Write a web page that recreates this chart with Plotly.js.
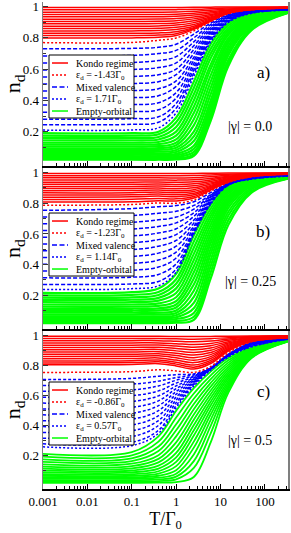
<!DOCTYPE html>
<html><head><meta charset="utf-8">
<script src="https://cdn.plot.ly/plotly-3.0.1.min.js"></script>
<style>html,body{margin:0;padding:0;background:#fff;}#chart{width:291px;height:533px;}</style>
</head><body><div id="chart"></div>
<script>
// Temperature grid T/Gamma0 (values at these temperatures)
const T = [0.001, 0.1, 0.4, 1, 2.5, 6, 15, 50, 330];

// ---------- Panel a) |gamma| = 0.0 ----------
const kondoA = [
 [0.995,0.995,0.995,0.995,0.996,0.997,0.998,0.998,0.998],
 [0.98,0.98,0.98,0.981,0.983,0.987,0.991,0.995,0.997],
 [0.965,0.965,0.965,0.966,0.97,0.977,0.985,0.992,0.996],
 [0.95,0.95,0.95,0.952,0.958,0.968,0.98,0.99,0.995],
 [0.935,0.935,0.936,0.938,0.946,0.959,0.976,0.988,0.995],
 [0.92,0.92,0.921,0.924,0.934,0.95,0.972,0.987,0.994],
 [0.905,0.905,0.906,0.91,0.922,0.942,0.968,0.986,0.994],
 [0.89,0.89,0.892,0.896,0.91,0.934,0.966,0.985,0.993],
 [0.875,0.875,0.877,0.882,0.898,0.928,0.964,0.984,0.993],
 [0.86,0.86,0.862,0.868,0.886,0.922,0.962,0.983,0.993],
 [0.845,0.845,0.847,0.854,0.875,0.917,0.961,0.983,0.993],
 [0.83,0.83,0.832,0.84,0.866,0.913,0.96,0.982,0.992],
 [0.815,0.815,0.818,0.827,0.86,0.91,0.959,0.982,0.992],
 [0.80,0.80,0.804,0.815,0.855,0.908,0.958,0.981,0.992]
];
const kondoEdgeA = [0.77,0.771,0.785,0.80,0.845,0.905,0.955,0.98,0.991];
const mixedA = [
 [0.73,0.733,0.74,0.76,0.825,0.895,0.949,0.978,0.99],
 [0.685,0.688,0.70,0.72,0.80,0.885,0.945,0.976,0.989],
 [0.64,0.643,0.655,0.68,0.775,0.875,0.941,0.975,0.988],
 [0.595,0.598,0.61,0.64,0.75,0.865,0.937,0.973,0.987],
 [0.55,0.553,0.565,0.60,0.725,0.855,0.933,0.971,0.986],
 [0.505,0.508,0.52,0.565,0.70,0.845,0.929,0.97,0.985],
 [0.46,0.463,0.475,0.525,0.675,0.835,0.925,0.968,0.984],
 [0.415,0.418,0.43,0.49,0.655,0.825,0.921,0.967,0.983],
 [0.37,0.373,0.385,0.45,0.635,0.815,0.917,0.965,0.982],
 [0.325,0.328,0.34,0.415,0.615,0.805,0.913,0.963,0.981],
 [0.28,0.283,0.295,0.38,0.595,0.795,0.909,0.962,0.98],
 [0.245,0.247,0.26,0.35,0.575,0.785,0.905,0.96,0.979]
];
const mixedEdgeA = [0.21,0.211,0.225,0.32,0.555,0.775,0.90,0.958,0.978];
const emptyA = [
 [0.19,0.19,0.20,0.29,0.52,0.76,0.895,0.955,0.975],
 [0.175,0.175,0.183,0.26,0.48,0.73,0.88,0.95,0.974],
 [0.16,0.16,0.166,0.23,0.44,0.70,0.865,0.945,0.973],
 [0.145,0.145,0.15,0.20,0.40,0.67,0.85,0.94,0.972],
 [0.13,0.13,0.134,0.175,0.36,0.63,0.835,0.935,0.971],
 [0.117,0.117,0.12,0.15,0.32,0.60,0.82,0.93,0.97],
 [0.105,0.105,0.107,0.13,0.28,0.56,0.80,0.925,0.969],
 [0.093,0.093,0.094,0.113,0.24,0.52,0.785,0.92,0.968],
 [0.082,0.082,0.083,0.097,0.20,0.48,0.77,0.912,0.967],
 [0.071,0.071,0.072,0.083,0.17,0.44,0.75,0.905,0.966],
 [0.061,0.061,0.061,0.07,0.14,0.40,0.73,0.897,0.965],
 [0.052,0.052,0.052,0.058,0.11,0.37,0.71,0.89,0.964],
 [0.043,0.043,0.043,0.048,0.09,0.34,0.69,0.88,0.963],
 [0.035,0.035,0.035,0.039,0.07,0.31,0.66,0.87,0.962],
 [0.027,0.027,0.027,0.03,0.055,0.29,0.64,0.86,0.961],
 [0.02,0.02,0.02,0.022,0.045,0.27,0.62,0.85,0.96]
];

// ---------- Panel b) |gamma| = 0.25 ----------
const kondoB = [
 [0.995,0.995,0.995,0.995,0.995,0.996,0.997,0.998,0.998],
 [0.98,0.98,0.98,0.98,0.981,0.985,0.99,0.994,0.997],
 [0.966,0.966,0.966,0.965,0.966,0.973,0.983,0.991,0.996],
 [0.952,0.952,0.952,0.951,0.953,0.962,0.977,0.989,0.995],
 [0.938,0.938,0.939,0.937,0.94,0.952,0.971,0.987,0.994],
 [0.924,0.924,0.925,0.923,0.927,0.942,0.966,0.985,0.994],
 [0.91,0.91,0.912,0.909,0.914,0.933,0.961,0.983,0.993],
 [0.896,0.897,0.899,0.895,0.901,0.925,0.957,0.982,0.993],
 [0.882,0.883,0.886,0.882,0.889,0.917,0.953,0.98,0.992],
 [0.868,0.869,0.873,0.869,0.877,0.91,0.95,0.979,0.992],
 [0.854,0.855,0.86,0.856,0.866,0.903,0.947,0.978,0.991],
 [0.84,0.842,0.847,0.843,0.855,0.897,0.944,0.977,0.991],
 [0.824,0.826,0.832,0.829,0.844,0.891,0.941,0.976,0.99],
 [0.808,0.81,0.817,0.815,0.834,0.886,0.939,0.975,0.99]
];
const kondoEdgeB = [0.787,0.792,0.802,0.80,0.822,0.88,0.935,0.973,0.99];
const mixedB = [
 [0.754,0.765,0.778,0.785,0.81,0.87,0.93,0.97,0.99],
 [0.71,0.72,0.735,0.748,0.786,0.857,0.929,0.969,0.989],
 [0.666,0.676,0.692,0.71,0.762,0.851,0.928,0.968,0.988],
 [0.622,0.632,0.649,0.672,0.738,0.845,0.927,0.967,0.987],
 [0.578,0.587,0.606,0.634,0.714,0.839,0.926,0.966,0.986],
 [0.534,0.543,0.563,0.596,0.69,0.833,0.925,0.965,0.985],
 [0.49,0.498,0.52,0.558,0.67,0.827,0.924,0.964,0.984],
 [0.446,0.453,0.475,0.52,0.65,0.821,0.923,0.963,0.983],
 [0.402,0.408,0.43,0.482,0.635,0.815,0.922,0.962,0.982],
 [0.358,0.363,0.384,0.443,0.62,0.81,0.921,0.961,0.981],
 [0.314,0.318,0.336,0.405,0.613,0.805,0.92,0.96,0.98],
 [0.271,0.274,0.29,0.372,0.607,0.80,0.919,0.959,0.979]
];
const mixedEdgeB = [0.238,0.243,0.262,0.35,0.60,0.795,0.918,0.957,0.977];
const emptyB = [
 [0.216,0.22,0.245,0.34,0.59,0.79,0.915,0.955,0.976],
 [0.2,0.203,0.222,0.305,0.55,0.765,0.905,0.952,0.975],
 [0.185,0.187,0.202,0.275,0.51,0.74,0.895,0.949,0.974],
 [0.17,0.171,0.183,0.245,0.47,0.715,0.885,0.946,0.973],
 [0.155,0.156,0.165,0.215,0.43,0.69,0.875,0.943,0.972],
 [0.14,0.14,0.147,0.187,0.39,0.66,0.862,0.94,0.971],
 [0.126,0.126,0.131,0.162,0.35,0.63,0.848,0.936,0.97],
 [0.112,0.112,0.115,0.14,0.31,0.60,0.834,0.932,0.969],
 [0.099,0.099,0.101,0.12,0.27,0.57,0.82,0.928,0.968],
 [0.086,0.086,0.087,0.101,0.23,0.54,0.806,0.924,0.967],
 [0.074,0.074,0.075,0.085,0.19,0.505,0.79,0.92,0.966],
 [0.062,0.062,0.062,0.07,0.15,0.47,0.77,0.912,0.965],
 [0.051,0.051,0.051,0.057,0.115,0.43,0.745,0.902,0.964],
 [0.04,0.04,0.04,0.045,0.085,0.39,0.72,0.892,0.963],
 [0.029,0.029,0.029,0.032,0.06,0.35,0.69,0.88,0.962],
 [0.019,0.019,0.019,0.021,0.04,0.31,0.66,0.87,0.96]
];

// ---------- Panel c) |gamma| = 0.5 ----------
const kondoC = [
 [0.995,0.995,0.995,0.994,0.993,0.994,0.996,0.997,0.998],
 [0.98,0.98,0.98,0.978,0.976,0.979,0.986,0.993,0.997],
 [0.965,0.966,0.966,0.962,0.958,0.963,0.977,0.99,0.996],
 [0.95,0.951,0.951,0.946,0.94,0.947,0.968,0.986,0.995],
 [0.935,0.936,0.937,0.93,0.922,0.932,0.959,0.983,0.994],
 [0.92,0.921,0.922,0.914,0.905,0.917,0.951,0.98,0.993],
 [0.905,0.906,0.908,0.898,0.888,0.902,0.943,0.977,0.992],
 [0.89,0.891,0.893,0.882,0.87,0.887,0.935,0.974,0.991],
 [0.875,0.876,0.879,0.867,0.853,0.873,0.928,0.972,0.99],
 [0.86,0.862,0.865,0.852,0.836,0.86,0.921,0.969,0.989],
 [0.845,0.847,0.851,0.837,0.82,0.847,0.914,0.967,0.988],
 [0.83,0.832,0.837,0.822,0.804,0.835,0.908,0.965,0.987],
 [0.818,0.82,0.825,0.81,0.79,0.824,0.902,0.963,0.986],
 [0.806,0.808,0.813,0.798,0.777,0.814,0.897,0.961,0.986]
];
const kondoEdgeC = [0.755,0.76,0.772,0.765,0.755,0.795,0.885,0.958,0.985];
const mixedC = [
 [0.707,0.715,0.73,0.74,0.745,0.785,0.875,0.955,0.984],
 [0.668,0.677,0.697,0.721,0.739,0.784,0.874,0.953,0.983],
 [0.629,0.638,0.665,0.703,0.732,0.783,0.873,0.95,0.983],
 [0.59,0.60,0.632,0.684,0.726,0.783,0.872,0.948,0.982],
 [0.551,0.561,0.599,0.665,0.719,0.782,0.871,0.945,0.981],
 [0.512,0.522,0.566,0.647,0.713,0.781,0.87,0.943,0.981],
 [0.473,0.483,0.534,0.628,0.707,0.78,0.869,0.94,0.98],
 [0.434,0.444,0.501,0.61,0.70,0.779,0.868,0.938,0.979],
 [0.395,0.405,0.468,0.591,0.694,0.779,0.867,0.935,0.978],
 [0.356,0.366,0.435,0.572,0.688,0.778,0.866,0.933,0.978],
 [0.318,0.328,0.403,0.554,0.681,0.777,0.865,0.93,0.977],
 [0.28,0.29,0.37,0.535,0.675,0.776,0.863,0.928,0.976]
];
const mixedEdgeC = [0.26,0.268,0.35,0.52,0.665,0.77,0.858,0.925,0.976];
const emptyC = [
 [0.214,0.225,0.33,0.50,0.65,0.76,0.85,0.92,0.975],
 [0.195,0.203,0.295,0.455,0.615,0.735,0.835,0.915,0.974],
 [0.177,0.183,0.262,0.41,0.58,0.71,0.82,0.91,0.973],
 [0.16,0.165,0.232,0.37,0.545,0.685,0.805,0.905,0.972],
 [0.144,0.148,0.205,0.33,0.51,0.66,0.79,0.90,0.971],
 [0.129,0.132,0.18,0.29,0.475,0.635,0.775,0.895,0.97],
 [0.115,0.117,0.157,0.255,0.44,0.61,0.76,0.89,0.969],
 [0.102,0.103,0.135,0.22,0.405,0.585,0.745,0.885,0.968],
 [0.09,0.091,0.116,0.19,0.37,0.56,0.73,0.88,0.967],
 [0.079,0.079,0.098,0.16,0.335,0.535,0.715,0.875,0.966],
 [0.068,0.068,0.082,0.132,0.295,0.505,0.70,0.87,0.965],
 [0.058,0.058,0.068,0.105,0.255,0.475,0.685,0.866,0.964],
 [0.048,0.048,0.055,0.082,0.21,0.44,0.67,0.862,0.963],
 [0.039,0.039,0.044,0.062,0.165,0.40,0.655,0.858,0.962],
 [0.03,0.03,0.033,0.044,0.12,0.35,0.64,0.854,0.961],
 [0.021,0.021,0.022,0.026,0.06,0.29,0.62,0.85,0.96]
];

// ---------- Labels ----------
const panelLabels = ['a)', 'b)', 'c)'];
const gammaLabels = ['|γ| = 0.0', '|γ| = 0.25', '|γ| = 0.5'];
const kondoEdgeLabels = ['ε<sub>d</sub> = -1.43Γ<sub>0</sub>', 'ε<sub>d</sub> = -1.23Γ<sub>0</sub>', 'ε<sub>d</sub> = -0.86Γ<sub>0</sub>'];
const mixedEdgeLabels = ['ε<sub>d</sub> = 1.71Γ<sub>0</sub>', 'ε<sub>d</sub> = 1.14Γ<sub>0</sub>', 'ε<sub>d</sub> = 0.57Γ<sub>0</sub>'];
const groupLabels = ['Kondo regime', 'Mixed valence', 'Empty-orbital'];
const yTickVals = [0.2, 0.4, 0.6, 0.8, 1];
const yTickText = ['0.2', '0.4', '0.6', '0.8', '1'];
const yMinorVals = [0.1, 0.3, 0.5, 0.7, 0.9];

// ---------- Build ----------
const FONT = 'Liberation Serif, Times New Roman, serif';
const RED = '#ff0000', BLUE = '#0000ff', GREEN = '#00ff00';
const DOT = '2px,2px';
const panels = [
  {xa:'x',  ya:'y',  h:164, dom:[0.6632,1],      legTop:53, lab:0.573, gam:0.238, gw:2.2, bd:'4px,2px', data:[kondoA,kondoEdgeA,mixedA,mixedEdgeA,emptyA]},
  {xa:'x2', ya:'y2', h:161, dom:[0.3285,0.6591], legTop:45, lab:0.604, gam:0.294, gw:2.2, bd:'4px,2px', data:[kondoB,kondoEdgeB,mixedB,mixedEdgeB,emptyB]},
  {xa:'x3', ya:'y3', h:158, dom:[0,0.3244],      legTop:51, lab:0.616, gam:0.31,  gw:1.8, bd:'3px,2px', data:[kondoC,kondoEdgeC,mixedC,mixedEdgeC,emptyC]}
];
const traces = [];
function add(p, y, st){
  traces.push({x:T, y:y, type:'scatter', mode:'lines', xaxis:p.xa, yaxis:p.ya,
    line:Object.assign({shape:'spline'}, st), showlegend:false, hoverinfo:'skip'});
}
panels.forEach(p => {
  const [k, ke, m, me, e] = p.data;
  e.forEach(r => add(p, r, {color:GREEN, width:p.gw}));
  m.forEach(r => add(p, r, {color:BLUE, width:1.5, dash:p.bd}));
  add(p, me, {color:BLUE, width:1.5, dash:DOT});
  add(p, ke, {color:RED, width:1.5, dash:DOT});
  k.forEach(r => add(p, r, {color:RED, width:1.5}));
});

const layout = {
  width:291, height:533, margin:{l:43, r:3, t:2, b:44},
  paper_bgcolor:'#fff', plot_bgcolor:'#fff',
  font:{family:FONT, color:'#000', size:13},
  showlegend:false, shapes:[], annotations:[]
};
const xBase = {type:'log', range:[-3, 2.52], dtick:1, ticks:'inside', ticklen:5, tickcolor:'#000', tickwidth:1,
  showline:true, linecolor:'#000', linewidth:1.5, showgrid:false, zeroline:false,
  minor:{ticks:'inside', ticklen:3, tickcolor:'#000', dtick:'D1', showgrid:false},
  tickfont:{size:13, family:FONT}};
panels.forEach((p, i) => {
  const sx = i===0 ? '' : String(i+1);
  const xa = Object.assign({}, xBase, {anchor:p.ya, showticklabels: i===2});
  if (i===2) xa.title = {text:'T/Γ<sub>0</sub>', font:{size:18, family:FONT}, standoff:4};
  if (i>0) xa.matches = 'x';
  layout['xaxis'+sx] = xa;
  layout['yaxis'+sx] = {domain:p.dom, anchor:p.xa, range:[-0.02, 1.03], tickvals:yTickVals, ticktext:yTickText,
    ticks:'inside', ticklen:5, tickcolor:'#333', showline:true, linecolor:'#7f7f7f', linewidth:1.5, mirror:true,
    showgrid:false, zeroline:false, tickfont:{size:13, family:FONT}, ticklabeloverflow:'allow',
    minor:{tickvals:yMinorVals, ticks:'inside', ticklen:3, tickcolor:'#333', showgrid:false},
    title:{text:'n<sub>d</sub>', font:{size:22, family:FONT}, standoff:3}};
  const xr = p.xa + ' domain', yr = p.ya + ' domain';
  layout.annotations.push({xref:xr, yref:yr, x:0.898, y:p.lab, text:panelLabels[i], showarrow:false,
    font:{size:17, family:FONT}, xanchor:'center', yanchor:'middle'});
  layout.annotations.push({xref:xr, yref:yr, x:0.845, y:p.gam, text:gammaLabels[i], showarrow:false,
    font:{size:14, family:FONT}, xanchor:'center', yanchor:'middle'});
  // legend box: pixel offsets inside the panel converted to domain fractions
  const fx = px => (px - 43) / 245;
  const fy = off => 1 - off / p.h;
  const top = p.legTop;
  layout.shapes.push({type:'rect', xref:xr, yref:yr, x0:fx(49), x1:fx(134), y0:fy(top), y1:fy(top+63),
    line:{color:'#000', width:1}, fillcolor:'#fff', layer:'above'});
  const rows = [
    {txt:groupLabels[0], c:RED, d:'solid', w:1.5},
    {txt:kondoEdgeLabels[i], c:RED, d:DOT, w:1.5},
    {txt:groupLabels[1], c:BLUE, d:'5px,2.5px', w:1.5},
    {txt:mixedEdgeLabels[i], c:BLUE, d:DOT, w:1.5},
    {txt:groupLabels[2], c:GREEN, d:'solid', w:1.5}
  ];
  rows.forEach((r, j) => {
    const off = top + 8 + 12 * j;
    layout.shapes.push({type:'line', xref:xr, yref:yr, x0:fx(52), x1:fx(68), y0:fy(off), y1:fy(off),
      line:{color:r.c, width:r.w, dash:r.d}, layer:'above'});
    layout.annotations.push({xref:xr, yref:yr, x:fx(74), y:fy(off), text:r.txt, showarrow:false,
      font:{size:10, family:FONT}, xanchor:'left', yanchor:'middle'});
  });
});
Plotly.newPlot('chart', traces, layout, {staticPlot:true, displayModeBar:false});
</script></body></html>
